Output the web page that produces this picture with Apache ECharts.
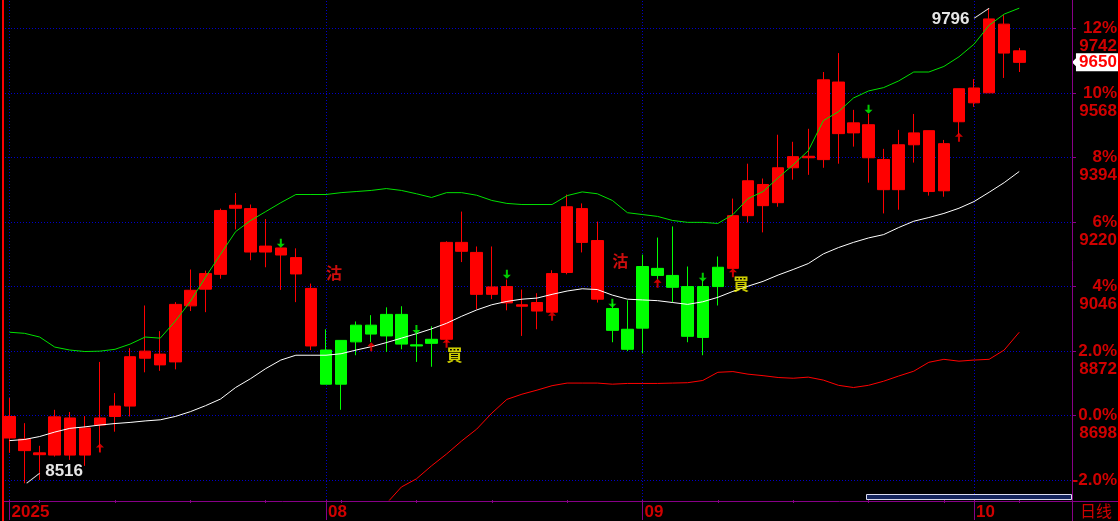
<!DOCTYPE html>
<html><head><meta charset="utf-8">
<script src="https://cdn.jsdelivr.net/npm/echarts@6/dist/echarts.min.js"></script>
<style>html,body{margin:0;padding:0;background:#000;overflow:hidden}#c{width:1120px;height:521px}</style>
</head><body><div id="c"></div>
<script>
// ---------- data ----------
const dates = [
'2025-07-03','2025-07-04','2025-07-07','2025-07-08','2025-07-09','2025-07-10','2025-07-11','2025-07-14','2025-07-15','2025-07-16',
'2025-07-17','2025-07-18','2025-07-21','2025-07-22','2025-07-23','2025-07-24','2025-07-25','2025-07-28','2025-07-29','2025-07-30',
'2025-07-31','2025-08-01','2025-08-04','2025-08-05','2025-08-06','2025-08-07','2025-08-08','2025-08-11','2025-08-12','2025-08-13',
'2025-08-14','2025-08-15','2025-08-18','2025-08-19','2025-08-20','2025-08-21','2025-08-22','2025-08-25','2025-08-26','2025-08-27',
'2025-08-28','2025-08-29','2025-09-01','2025-09-02','2025-09-03','2025-09-04','2025-09-05','2025-09-08','2025-09-09','2025-09-10',
'2025-09-11','2025-09-12','2025-09-15','2025-09-16','2025-09-17','2025-09-18','2025-09-19','2025-09-22','2025-09-23','2025-09-24',
'2025-09-25','2025-09-26','2025-09-29','2025-09-30','2025-10-01','2025-10-02','2025-10-03','2025-10-06'];
const open = [8696,8635,8598,8592,8692,8592,8673,8696,8724,8853, 8864,8843,8994,9039,9079,9257,9256,9139,9150,9124,
 9041,8875,8783,8897,8942,8913,8971,8889,8893,8904, 9165,9138,9025,9046,8997,8980,8977,9084,9256,9170,
 8987,8931,8934,9095,9076,9046,8909,9046,9095,9237, 9321,9272,9366,9393,9388,9597,9460,9482,9388,9307,
 9428,9466,9304,9490,9581,9568,9753,9681];
const high = [8746,8678,8617,8714,8708,8697,8843,8759,8880,8995, 8926,9004,9092,9089,9256,9298,9267,9228,9151,9149,
 9054,8931,8901,8952,8969,8990,8993,8926,8939,9168, 9248,9154,9154,9065,9038,9028,9090,9294,9270,9221,
 9001,9009,9132,9178,9208,9100,9065,9127,9283,9377, 9337,9455,9436,9471,9624,9675,9522,9511,9417,9468,
 9511,9466,9441,9579,9605,9796,9777,9689];
const low = [8598,8516,8525,8588,8579,8563,8601,8655,8696,8815, 8819,8823,8980,8977,9067,9200,9117,9098,9037,9004,
 8875,8783,8714,8861,8896,8870,8877,8843,8830,8896, 9112,8985,9012,8982,8913,8931,8976,9079,9138,9003,
 8896,8872,8866,9065,9003,8896,8861,8995,9092,9219, 9192,9261,9334,9347,9366,9377,9423,9326,9243,9253,
 9380,9291,9288,9455,9530,9568,9608,9624];
const close = [8638,8604,8593,8695,8592,8665,8692,8724,8857,8872, 8835,8998,9036,9081,9251,9265,9139,9155,9131,9080,
 8886,8783,8901,8942,8918,8971,8891,8886,8904,9165, 9141,9025,9045,9002,8993,9003,9081,9261,9165,9012,
 8928,8877,9100,9076,9044,8912,9046,9098,9237,9331, 9264,9366,9396,9397,9603,9458,9487,9393,9307,9428,
 9460,9302,9431,9579,9541,9767,9675,9650];
const upperBand = [8923,8920,8910,8883,8875,8871,8872,8877,8891,8910, 8907,8953,9006,9071,9133,9194,9224,9248,9272,9294,
 9294,9294,9299,9302,9305,9310,9305,9296,9286,9299, 9299,9292,9278,9270,9267,9267,9267,9291,9301,9296,
 9278,9245,9240,9235,9224,9219,9219,9216,9240,9283, 9302,9339,9374,9412,9493,9517,9554,9573,9582,9600,
 9624,9624,9639,9665,9699,9750,9780,9796];
const midBand = [8631,8634,8642,8654,8664,8668,8673,8677,8680,8684, 8687,8696,8709,8725,8743,8774,8798,8825,8848,8861,
 8861,8861,8865,8875,8884,8895,8907,8919,8932,8947, 8966,8983,8997,9006,9012,9015,9025,9034,9040,9038,
 9023,9012,9010,9008,9003,8998,9005,9017,9033,9047, 9060,9077,9092,9108,9134,9151,9165,9177,9186,9205,
 9222,9232,9243,9257,9275,9300,9326,9356];
const lowerBand = [null,null,null,null,null,null,null,null,null,null, null,null,null,null,null,null,null,null,null,null,
 null,null,null,null,null,8461,8506,8528,8563,8595, 8630,8662,8705,8742,8756,8767,8779,8786,8786,8786,
 8783,8785,8785,8785,8786,8787,8793,8815,8817,8810, 8806,8801,8799,8802,8794,8780,8774,8780,8791,8805,
 8818,8842,8850,8845,8848,8850,8875,8923];
const basePrice = 8698;
const pctTicks = [-2, 0, 2, 4, 6, 8, 10, 12];
const pctLabels = ['-2.0%', '0.0%', '2.0%', '4%', '6%', '8%', '10%', '12%'];
const sellIdx = [21, 40];      const sellPrice = [9083, 9115];
const buyIdx = [29, 48];       const buyPrice = [8862, 9052];
const downArrowIdx = [18, 27, 33, 40, 46, 57];
const downArrowPrice = [9163, 8930, 9079, 9001, 9071, 9524];
const upArrowIdx = [6, 24, 29, 36, 43, 48, 63];
const upArrowPrice = [8611, 8884, 8893, 8966, 9055, 9083, 9448];

// ---------- build ----------
const N = dates.length;
const cats = dates.concat(['_1', '_2', '_3']);
const RED = '#ff0000', GREEN = '#00ff00', PURPLE = '#880088', AXRED = '#d00000';
const yMin = 8471, yMax = 9818, gridH = 501;
const ppx = (yMax - yMin) / gridH;
const tickVals = pctTicks.map(k => basePrice * (1 + k / 100));
const labelVals = tickVals.map(v => v - 9 * ppx);

function stateColor(i) {
  let last = -1, col = RED;
  sellIdx.forEach(s => { if (s <= i && s > last) { last = s; col = GREEN; } });
  buyIdx.forEach(b => { if (b <= i && b > last) { last = b; col = RED; } });
  return col;
}
const candleData = dates.map((d, i) => {
  const c = stateColor(i);
  return { value: [open[i], close[i], low[i], high[i]],
    itemStyle: { color: c, color0: c, borderColor: c, borderColor0: c, borderColorDoji: c, borderWidth: 1 } };
});
function isMonthStart(i) {
  if (i >= N) return false;
  return i === 0 || dates[i].slice(5, 7) !== dates[i - 1].slice(5, 7);
}
function isMonday(v) {
  const d = new Date(v + 'T00:00:00');
  return !isNaN(d) && d.getDay() === 1;
}
const maxVal = Math.max.apply(null, high), maxI = high.indexOf(maxVal);
const minVal = Math.min.apply(null, low), minI = low.indexOf(minVal);
const lastClose = close[N - 1];
const labelFont = { fontFamily: 'Liberation Sans', fontWeight: 'bold', fontSize: 17 };

const option = {
  backgroundColor: '#000000',
  animation: false,
  grid: { left: 2, right: 48, top: 0, bottom: 20, containLabel: false },
  xAxis: [
    { type: 'category', data: cats, boundaryGap: true, position: 'bottom',
      axisLine: { show: false },
      axisTick: { show: true, alignWithLabel: true, interval: (i, v) => isMonday(v), length: 3, lineStyle: { color: PURPLE } },
      axisLabel: { show: false }, splitLine: { show: false } },
    { type: 'category', data: cats, boundaryGap: true, position: 'bottom',
      axisLine: { show: false },
      axisTick: { show: true, alignWithLabel: true, interval: (i) => isMonthStart(i), length: 20, lineStyle: { color: PURPLE } },
      axisLabel: Object.assign({ show: true, interval: (i) => isMonthStart(i),
        formatter: (v, i) => i === 0 ? v.slice(0, 4) : v.slice(5, 7),
        align: 'left', padding: [0, 0, 0, 2], margin: 4, color: AXRED, lineHeight: 17 }, labelFont),
      splitLine: { show: false } }
  ],
  yAxis: {
    type: 'value', position: 'right', min: yMin, max: yMax, scale: true,
    axisLine: { show: false }, splitLine: { show: false },
    axisTick: { show: true, customValues: tickVals, length: 4, lineStyle: { color: PURPLE } },
    axisLabel: {
      show: true, customValues: labelVals, align: 'right', margin: 45,
      formatter: function (v) {
        let j = 0, best = Infinity;
        labelVals.forEach((lv, k) => { const d = Math.abs(lv - v); if (d < best) { best = d; j = k; } });
        const p = j === 0 ? ' ' : String(Math.round(tickVals[j]));
        return '{a|' + pctLabels[j] + '}\n{b|' + p + '}';
      },
      rich: {
        a: Object.assign({ color: AXRED, lineHeight: 18, align: 'right' }, labelFont),
        b: Object.assign({ color: AXRED, lineHeight: 18, align: 'right' }, labelFont)
      }
    }
  },
  series: [
    { type: 'line', name: 'grid', data: dates.map(() => null), z: 1, silent: true, symbol: 'none',
      markLine: {
        silent: true, symbol: 'none', z: 1, label: { show: false },
        lineStyle: { color: '#0000c8', width: 1, type: [1, 2] },
        data: tickVals.map(v => ({ yAxis: v })).concat(
          dates.map((d, i) => isMonthStart(i) ? { xAxis: d } : null).filter(Boolean))
      } },
    { type: 'candlestick', name: 'k', data: candleData, barWidth: 12, z: 3,
      markPoint: {
        z: 6,
        data: [
          { coord: [maxI, maxVal], value: maxVal, symbol: 'path://M15,0L0,10', symbolSize: [15, 10], symbolOffset: [-7.5, 5],
            itemStyle: { color: 'rgba(0,0,0,0)', borderColor: '#e6e6e6', borderWidth: 1 },
            label: Object.assign({ show: true, position: 'left', distance: 4, offset: [0, 6], formatter: String(maxVal), color: '#e6e6e6' }, labelFont) },
          { coord: [minI, minVal], value: minVal, symbol: 'path://M0,10L13,0', symbolSize: [13, 10], symbolOffset: [8.5, -5],
            itemStyle: { color: 'rgba(0,0,0,0)', borderColor: '#e6e6e6', borderWidth: 1 },
            label: Object.assign({ show: true, position: 'right', distance: 5, offset: [0, -7], formatter: String(minVal), color: '#e6e6e6' }, labelFont) },
          { coord: [N + 2, lastClose], value: lastClose, symbol: 'path://M0,9L4,5L4,0L48,0L48,18L4,18L4,13Z', symbolSize: [48, 18], symbolOffset: [31.5, 0],
            itemStyle: { color: '#ffffff', borderWidth: 0 },
            label: Object.assign({ show: true, position: 'inside', offset: [2, 0], formatter: String(lastClose), color: '#ff0000' }, labelFont) }
        ]
      } },
    { type: 'line', name: 'upper', data: upperBand, symbol: 'none', z: 4, lineStyle: { color: '#00e000', width: 1 } },
    { type: 'line', name: 'mid', data: midBand, symbol: 'none', z: 4, lineStyle: { color: '#ffffff', width: 1 } },
    { type: 'line', name: 'lower', data: lowerBand, symbol: 'none', z: 4, connectNulls: false, lineStyle: { color: '#ff0000', width: 1 } },
    { type: 'scatter', name: 'down', z: 5, data: downArrowIdx.map((i, k) => [i, downArrowPrice[k]]),
      symbol: 'path://M3,0L5,0L5,5L8,5L4,9L0,5L3,5Z', symbolSize: [8, 9], itemStyle: { color: '#00ff00' } },
    { type: 'scatter', name: 'up', z: 5, data: upArrowIdx.map((i, k) => [i, upArrowPrice[k]]),
      symbol: 'path://M4,0L8,4L5,4L5,9L3,9L3,4L0,4Z', symbolSize: [8, 9], itemStyle: { color: '#ff0000' } },
    { type: 'scatter', name: 'sell', z: 5, data: sellIdx.map((i, k) => [i, sellPrice[k]]),
      symbolSize: 1, itemStyle: { color: 'rgba(0,0,0,0)' },
      label: { show: true, position: 'inside', offset: [8, 0], formatter: '沽', color: '#ff1010', fontSize: 16, fontWeight: 'bold', fontFamily: 'Noto Sans CJK TC' } },
    { type: 'scatter', name: 'buy', z: 5, data: buyIdx.map((i, k) => [i, buyPrice[k]]),
      symbolSize: 1, itemStyle: { color: 'rgba(0,0,0,0)' },
      label: { show: true, position: 'inside', offset: [8, 0], formatter: '買', color: '#ffff00', fontSize: 16, fontWeight: 'bold', fontFamily: 'Noto Sans CJK TC' } }
  ],
  graphic: [
    { type: 'rect', shape: { x: 2, y: 0, width: 2, height: 521 }, style: { fill: '#ff0000' }, silent: true, z: 100 },
    { type: 'rect', shape: { x: 1118, y: 0, width: 2, height: 521 }, style: { fill: '#ff0000' }, silent: true, z: 100 },
    { type: 'line', shape: { x1: 4, y1: 501.5, x2: 1118, y2: 501.5 }, style: { stroke: PURPLE, lineWidth: 1 }, silent: true, z: 100 },
    { type: 'line', shape: { x1: 1072.5, y1: 0, x2: 1072.5, y2: 521 }, style: { stroke: PURPLE, lineWidth: 1 }, silent: true, z: 100 },
    { type: 'rect', shape: { x: 866.5, y: 494.5, width: 205, height: 5 }, style: { fill: '#14245c', stroke: '#dcdcf0', lineWidth: 1 }, silent: true, z: 100 },
    { type: 'text', left: 1080, top: 503, style: { text: '日线', fill: AXRED, font: '16px "Noto Sans CJK SC"' }, silent: true, z: 100 }
  ]
};
const chart = echarts.init(document.getElementById('c'));
chart.setOption(option);
</script></body></html>
